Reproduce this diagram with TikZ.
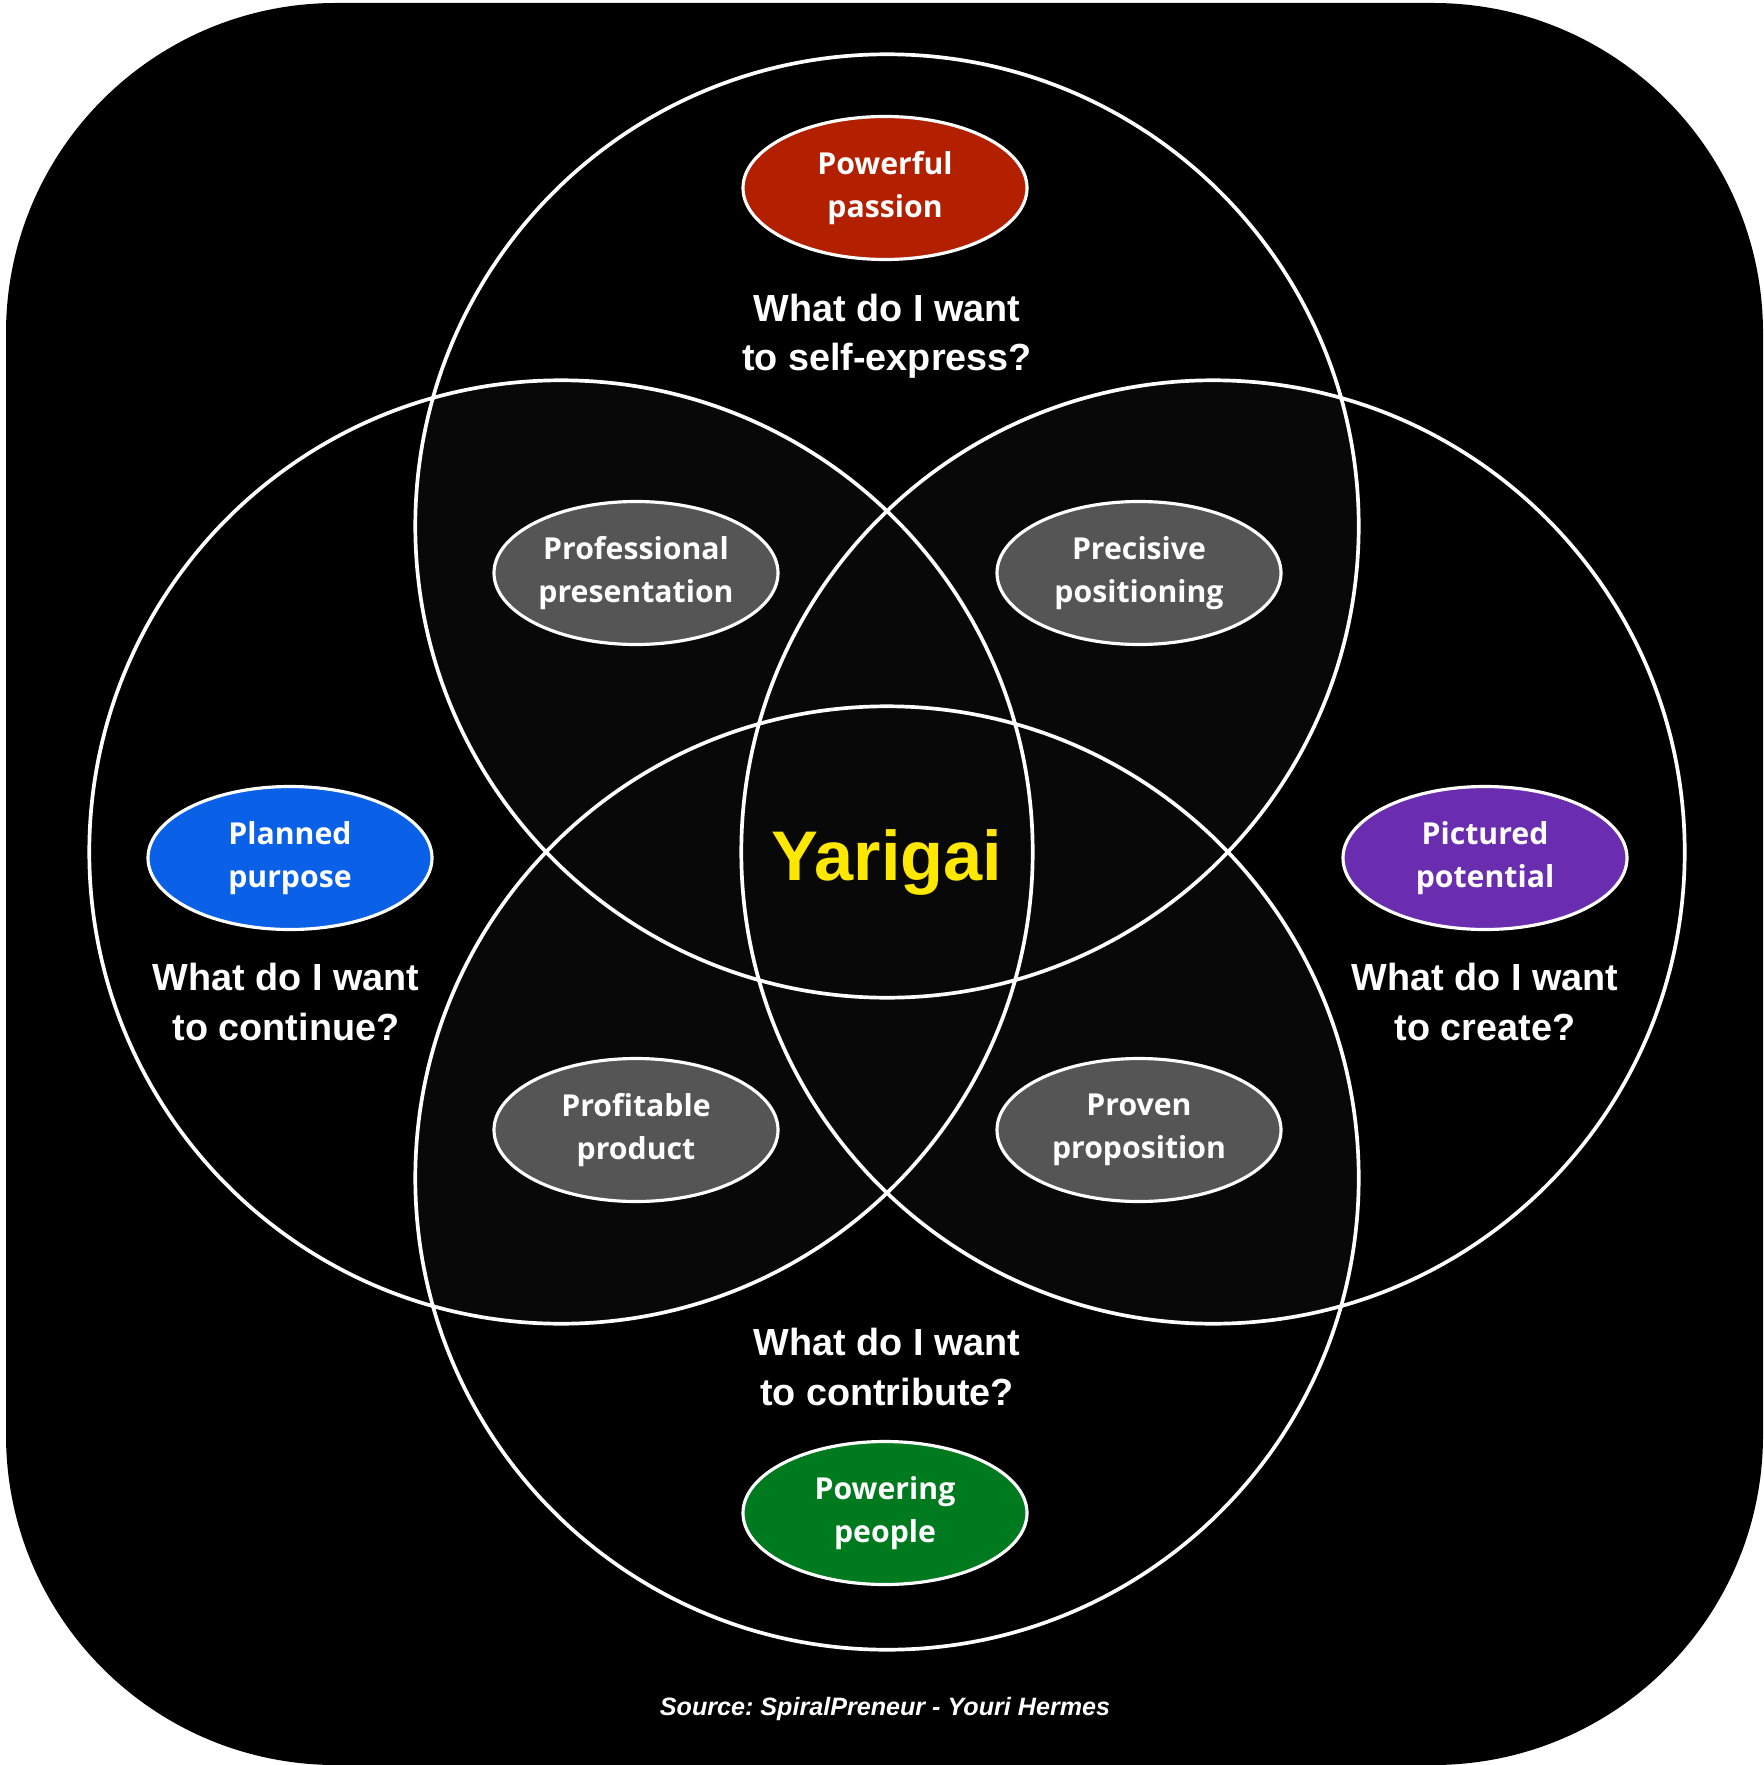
\documentclass[tikz,border=0pt]{standalone}
\usepackage{fontspec}
\setmainfont{Liberation Sans}
\newfontfamily\pillfont{Open Sans}
\usetikzlibrary{shapes.geometric}
\frenchspacing

\definecolor{lensgray}{HTML}{080808}
\definecolor{pillgray}{HTML}{555555}
\definecolor{passionred}{HTML}{B22000}
\definecolor{purposeblue}{HTML}{0A60E6}
\definecolor{potentialpurple}{HTML}{6A2DB0}
\definecolor{peoplegreen}{HTML}{007A1E}
\definecolor{yarigaiyellow}{HTML}{FFE800}

\tikzset{
  ring/.style={draw=white, line width=2.1pt},
  pill/.style={ellipse, draw=white, line width=1.8pt, minimum width=56.8mm,
               minimum height=28.6mm, inner sep=0pt, align=center, text=white,
               font=\pillfont\bfseries\fontsize{17.2}{24.3}\selectfont},
  question/.style={align=center, text=white,
               font=\bfseries\fontsize{21.5}{28}\selectfont},
}

\begin{document}
\begin{tikzpicture}[x=0.2mm, y=-0.2mm]
  \def\R{94.34mm}
  % page and rounded black panel
  \fill[white] (0,0) rectangle (1763,1765);
  \fill[black, rounded corners=66mm] (6,3) rectangle (1763,1765);

  % circle centres
  \coordinate (ct) at (887,526);
  \coordinate (cl) at (561,852);
  \coordinate (cr) at (1213,852);
  \coordinate (cb) at (887,1178);

  % shaded overlaps of every pair of circles
  \foreach \a/\b in {ct/cl, ct/cr, ct/cb, cl/cr, cl/cb, cr/cb} {
    \begin{scope}
      \clip (\a) circle[radius=\R];
      \fill[lensgray] (\b) circle[radius=\R];
    \end{scope}
  }

  % the four circles
  \foreach \c in {ct, cl, cr, cb}
    \draw[ring] (\c) circle[radius=\R];

  % outer labels
  \node[pill, fill=passionred] (passion) at (885,188) {Powerful\\passion};
  \node[pill, fill=purposeblue] (purpose) at (290,858) {Planned\\purpose};
  \node[pill, fill=potentialpurple] (potential) at (1485,858) {Pictured\\potential};
  \node[pill, fill=peoplegreen] (people) at (885,1513) {Powering\\people};

  % overlap labels
  \node[pill, fill=pillgray] (presentation) at (636,573) {Professional\\presentation};
  \node[pill, fill=pillgray] (positioning) at (1139,573) {Precisive\\positioning};
  \node[pill, fill=pillgray] (product) at (636,1130) {Profitable\\product};
  \node[pill, fill=pillgray] (proposition) at (1139,1130) {Proven\\proposition};

  % questions
  \node[question] (qexpress) at (887,336) {What do I want\\to self-express?};
  \node[question] (qcontinue) at (286,1002) {What do I want\\to continue?};
  \node[question] (qcreate) at (1485,1002) {What do I want\\to create?};
  \node[question] (qcontribute) at (887,1367) {What do I want\\to contribute?};

  % centre
  \node[anchor=base, text=yarigaiyellow, font=\bfseries\fontsize{40}{48}\selectfont,
        inner sep=0pt] (yarigai) at (887,880) {Yarigai};

  % credit line
  \node[anchor=base, text=white, font=\bfseries\itshape\fontsize{14.3}{17}\selectfont,
        inner sep=0pt] (source) at (885,1715) {Source: SpiralPreneur - Youri Hermes};
\end{tikzpicture}
\end{document}
